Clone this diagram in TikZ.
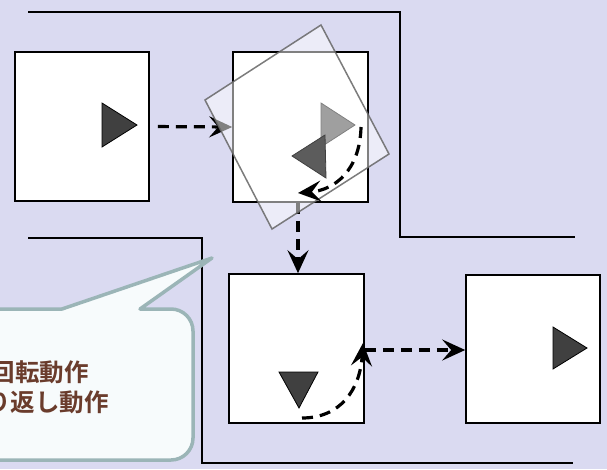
\documentclass[tikz,border=0pt]{standalone}
\usepackage{fontspec}
\newfontfamily\cjk{Noto Sans CJK JP}[BoldFont={Noto Sans CJK JP Bold}]
\usetikzlibrary{arrows.meta}
\definecolor{bg}{RGB}{218,218,241}
\definecolor{tri}{RGB}{64,64,64}
\definecolor{tri2}{RGB}{92,92,92}
\definecolor{calloutfill}{RGB}{247,251,252}
\definecolor{calloutline}{RGB}{155,181,183}
\definecolor{txt}{RGB}{106,60,44}
\tikzset{
  panel/.style={draw=black, fill=white, line width=1.6pt, inner sep=0pt, minimum width=134pt, minimum height=149pt},
  flow/.style={line width=3.2pt, dash pattern=on 11pt off 7pt, -{Stealth[length=23pt,width=21pt,inset=9pt]}},
  wall/.style={draw=black, line width=1.5pt},
  marker/.style={fill=tri, draw=black, line width=0.8pt},
  calltext/.style={text=txt, font=\cjk\bfseries\fontsize{24.5}{24.5}\selectfont, inner sep=0pt, anchor=east}
}
\begin{document}
\begin{tikzpicture}[x=1pt,y=-1pt]
\useasboundingbox (0,0) rectangle (607,469);
\fill[bg] (0,0) rectangle (607,469);
% walls
\draw[wall] (28,12) -- (400,12) -- (400,237) -- (575,237);
\draw[wall] (28,238) -- (202,238) -- (202,463) -- (573,463);
% panels
\node[panel] (box1) at (82,126.5) {};
\node[panel, minimum width=135pt, minimum height=150pt] (box2) at (300.5,127) {};
\node[panel, minimum width=135pt] (box3) at (296.5,348.5) {};
\node[panel, minimum height=148pt] (box4) at (533,349) {};
% markers
\draw[marker] (102,103) -- (137,125) -- (102,147) -- cycle;
\draw[marker] (321,103) -- (355,125) -- (321,147) -- cycle;
\draw[marker] (279,372) -- (318,372) -- (299,408) -- cycle;
\draw[marker] (553,327) -- (587,348) -- (553,369) -- cycle;
% straight connectors
\draw[flow, shorten <=8pt] (box1.east) -- (box2.west);
\draw[flow] (box2.south -| 298,0) -- (box3.north -| 298,0);
\draw[flow] (box3.east |- 0,350) -- (box4.west |- 0,350);
% rotated overlay
\filldraw[fill=white, fill opacity=0.5, draw=black!60, draw opacity=0.85, line width=1.5pt]
  (205,100) -- (321,25) -- (389,154) -- (272,229) -- cycle;
\draw[fill=tri2, draw=tri, line width=0.8pt] (292,156) -- (325,135) -- (326,178) -- cycle;
% curved connectors
\coordinate (r1) at (361,127);
\coordinate (r2) at (298,193);
\coordinate (s1) at (302,418);
\coordinate (s2) at (363,343);
\draw[flow] (r1) .. controls (360,170) and (335,190) .. (r2);
\draw[flow] (s1) .. controls (340,418) and (360,390) .. (s2);
% callout
\draw[fill=calloutfill, draw=calloutline, line width=3.5pt, line join=round]
  (-30,309) -- (62,309) -- (212,258) -- (140,309) [rounded corners=22pt] -- (193,309) -- (193,460) [sharp corners] -- (-30,460) -- cycle;
\node[calltext] (t1) at (89,372) {回転動作};
\node[calltext] (t2) at (109,402) {り返し動作};
\end{tikzpicture}
\end{document}
